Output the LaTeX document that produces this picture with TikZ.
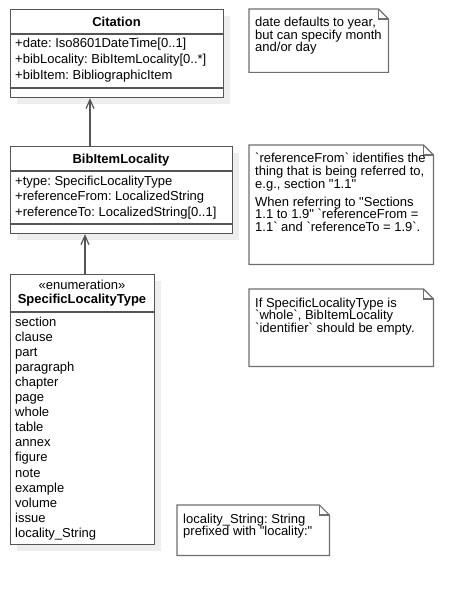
\documentclass[tikz,border=0pt]{standalone}
\usepackage{fontspec}
\newfontfamily\umlfont{Liberation Sans}
\usetikzlibrary{shadows,arrows.meta}
\definecolor{linegray}{RGB}{85,85,85}
\definecolor{notegray}{RGB}{110,110,110}
\definecolor{shadowgray}{RGB}{238,238,238}
\newcommand\drawnote[1]{%
  \draw[noteline] (#1.north west) -- ([xshift=-10pt]#1.north east) -- ([yshift=-10pt]#1.north east) -- (#1.south east) -- (#1.south west) -- cycle;
  \draw[noteline] ([xshift=-10pt]#1.north east) -- ([xshift=-10pt,yshift=-10pt]#1.north east) -- ([yshift=-10pt]#1.north east);
}
\frenchspacing
\begin{document}
\frenchspacing
\begin{tikzpicture}[x=1pt,y=-1pt,
  classbox/.style={draw=linegray, line width=1.2pt, fill=white, inner sep=0pt, anchor=north west,
    drop shadow={shadow xshift=6pt, shadow yshift=-6pt, fill=shadowgray, opacity=1}},
  sepline/.style={draw=linegray, line width=1.2pt},
  notearea/.style={draw=none, inner sep=0pt, anchor=north west},
  noteline/.style={draw=notegray, line width=1.2pt, line join=miter},
  txt/.style={font=\umlfont\fontsize{13}{15}\selectfont\frenchspacing, inner sep=0pt, anchor=base west, text=black},
  ttl/.style={font=\umlfont\bfseries\fontsize{13}{15}\selectfont\frenchspacing, inner sep=0pt, anchor=base, text=black},
  ctr/.style={font=\umlfont\fontsize{13}{15}\selectfont\frenchspacing, inner sep=0pt, anchor=base, text=black},
  assoc/.style={draw=linegray, line width=1.2pt, -{Straight Barb[length=9pt,width=8pt,line width=1.2pt]}}
]
\useasboundingbox (0,0) rectangle (474,596);

% ---- Citation ----
\node[classbox, minimum width=213pt, minimum height=88pt] (cit) at (10,9) {};
\draw[sepline] (cit.west |- 0,34) -- (cit.east |- 0,34);
\draw[sepline] (cit.west |- 0,88) -- (cit.east |- 0,88);
\node[ttl] (citT) at (116.5,26.5) {Citation};
\node[txt] (cit1) at (15,47.5) {+date: Iso8601DateTime[0..1]};
\node[txt] (cit2) at (15,63.5) {+bibLocality: BibItemLocality[0..*]};
\node[txt] (cit3) at (15,79.5) {+bibItem: BibliographicItem};

% ---- BibItemLocality ----
\node[classbox, minimum width=222pt, minimum height=87pt] (bil) at (10,146) {};
\draw[sepline] (bil.west |- 0,171) -- (bil.east |- 0,171);
\draw[sepline] (bil.west |- 0,224) -- (bil.east |- 0,224);
\node[ttl] (bilT) at (121,164) {BibItemLocality};
\node[txt] (bil1) at (15,185) {+type: SpecificLocalityType};
\node[txt] (bil2) at (15,200.5) {+referenceFrom: LocalizedString};
\node[txt] (bil3) at (15,216) {+referenceTo: LocalizedString[0..1]};

% ---- SpecificLocalityType ----
\node[classbox, minimum width=144pt, minimum height=270pt] (slt) at (10,274) {};
\draw[sepline] (slt.west |- 0,312) -- (slt.east |- 0,312);
\node[ctr] (sltS) at (82,289) {«enumeration»};
\node[ttl] (sltT) at (82,303.5) {SpecificLocalityType};
\node[txt] (e1) at (15,326.5) {section};
\node[txt] (e2) at (15,341.55) {clause};
\node[txt] (e3) at (15,356.6) {part};
\node[txt] (e4) at (15,371.65) {paragraph};
\node[txt] (e5) at (15,386.7) {chapter};
\node[txt] (e6) at (15,401.75) {page};
\node[txt] (e7) at (15,416.8) {whole};
\node[txt] (e8) at (15,431.85) {table};
\node[txt] (e9) at (15,446.9) {annex};
\node[txt] (e10) at (15,461.95) {figure};
\node[txt] (e11) at (15,477) {note};
\node[txt] (e12) at (15,492.05) {example};
\node[txt] (e13) at (15,507.1) {volume};
\node[txt] (e14) at (15,522.15) {issue};
\node[txt] (e15) at (15,537.2) {locality\_String};

% ---- connectors ----
\draw[assoc] (bil.north -| 90,0) -- (cit.south -| 90,0);
\draw[assoc] (slt.north -| 85,0) -- (bil.south -| 85,0);

% ---- notes ----
\node[notearea, minimum width=139pt, minimum height=63pt] (n1) at (249,9) {};
\drawnote{n1}
\node[txt] (n1a) at (255,27) {date defaults to year,};
\node[txt] (n1b) at (255,39.5) {but can specify month};
\node[txt] (n1c) at (255,52) {and/or day};

\node[notearea, minimum width=184pt, minimum height=119pt] (n2) at (249,145) {};
\drawnote{n2}
\node[txt] (n2a) at (255,163) {`referenceFrom` identifies the};
\node[txt] (n2b) at (255,175.5) {thing that is being referred to,};
\node[txt] (n2c) at (255,188) {e.g., section "1.1"};
\node[txt] (n2d) at (255,206) {When referring to "Sections};
\node[txt] (n2e) at (255,218.5) {1.1 to 1.9" `referenceFrom =};
\node[txt] (n2f) at (255,231) {1.1` and `referenceTo = 1.9`.};

\node[notearea, minimum width=184pt, minimum height=77pt] (n3) at (249,289) {};
\drawnote{n3}
\node[txt] (n3a) at (255,307) {If SpecificLocalityType is};
\node[txt] (n3b) at (255,319.5) {`whole`, BibItemLocality};
\node[txt] (n3c) at (255,332) {`identifier` should be empty.};

\node[notearea, minimum width=152pt, minimum height=50pt] (n4) at (177,505) {};
\drawnote{n4}
\node[txt] (n4a) at (183,523) {locality\_String: String};
\node[txt] (n4b) at (183,535.5) {prefixed with "locality:"};
\end{tikzpicture}
\end{document}
